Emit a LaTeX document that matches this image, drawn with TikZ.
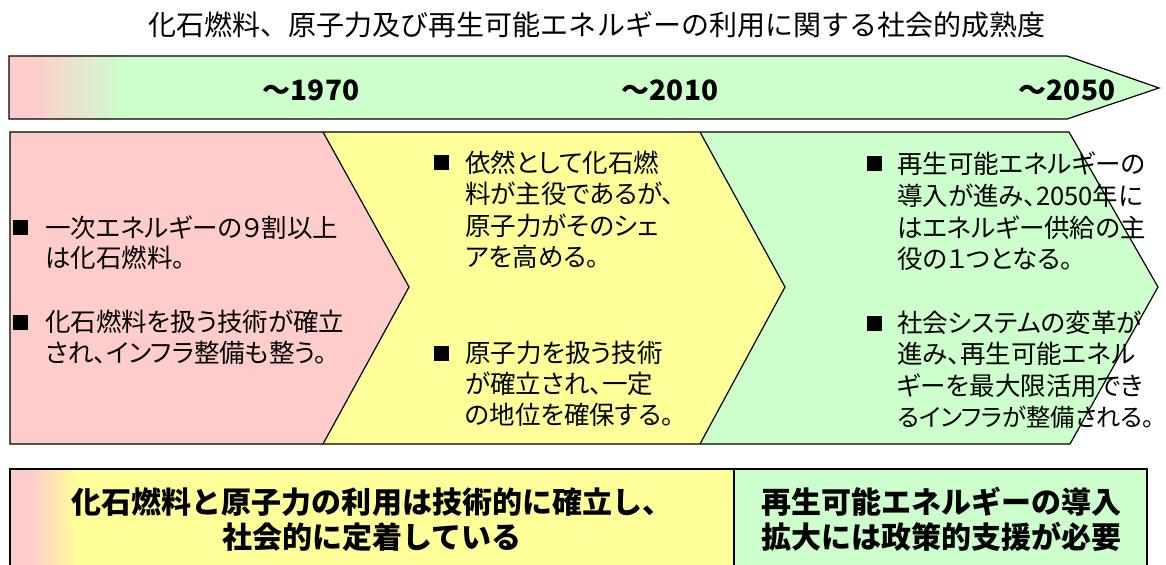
\documentclass[tikz,border=0pt]{standalone}
\usepackage{fontspec}
\newfontfamily\jp{Noto Sans CJK JP}
\newfontfamily\jpp[RawFeature=+palt]{Noto Sans CJK JP}
\definecolor{pinkc}{HTML}{FFCCCC}
\definecolor{yellowc}{HTML}{FFFF99}
\definecolor{greenc}{HTML}{CCFFCC}
\tikzset{
  ln/.style={anchor=west, inner sep=0pt, text height=22bp, text depth=3bp,
    font=\jpp\fontsize{25.5bp}{30bp}\selectfont},
  lnsmall/.style={ln, font=\jpp\fontsize{24.3bp}{30bp}\selectfont},
  bul/.style={fill=black, draw=none, minimum size=15bp, inner sep=0pt},
  yearlbl/.style={inner sep=0pt, text height=24.6bp, text depth=3.4bp,
    font=\jp\bfseries\fontsize{28bp}{30bp}\selectfont},
  bottomlbl/.style={inner sep=0pt, text height=26.4bp, text depth=3.6bp,
    font=\jp\bfseries\fontsize{30bp}{35bp}\selectfont},
  titlelbl/.style={inner sep=0pt, text height=24.6bp, text depth=3.4bp,
    font=\jp\fontsize{28bp}{30bp}\selectfont},
  outline/.style={draw=black, line width=1.2bp, line join=miter},
}
\begin{document}
\begin{tikzpicture}[x=1bp, y=-1bp]
\useasboundingbox (0,0) rectangle (1166,565);
\clip (0,0) rectangle (1166,565);
\fill[white] (0,0) rectangle (1166,565);

% title
\node[titlelbl] (title) at (597,25) {化石燃料、原子力及び再生可能エネルギーの利用に関する社会的成熟度};

% top timeline arrow
\fill[greenc] (9,56) -- (1067,56) -- (1159,88) -- (1067,119) -- (9,119) -- cycle;
\fill[pinkc] (9,56) rectangle (32,119);
\shade[left color=pinkc, right color=greenc] (32,56) rectangle (125,119);
\draw[outline] (9,56) -- (1067,56) -- (1159,88) -- (1067,119) -- (9,119) -- cycle;
\node[yearlbl] (y1970) at (311,90) {～1970};
\node[yearlbl] (y2010) at (670,90) {～2010};
\node[yearlbl] (y2050) at (1067,90) {～2050};

% chevron fills
\fill[pinkc] (10,132) -- (323,132) -- (409,287) -- (323,444) -- (10,444) -- cycle;
\fill[yellowc] (323,132) -- (700,132) -- (785,287) -- (700,444) -- (323,444) -- (409,287) -- cycle;
\fill[greenc] (700,132) -- (1069,132) -- (1158,287) -- (1070,444) -- (700,444) -- (785,287) -- cycle;

% pink texts
\node[bul] (pb1) at (20,228) {};
\node[ln] (p1a) at (45,228) {一次エネルギーの９割以上};
\node[ln] (p1b) at (45,258) {は化石燃料。};
\node[bul] (pb2) at (20,322) {};
\node[ln] (p2a) at (45,322) {化石燃料を扱う技術が確立};
\node[ln] (p2b) at (45,353) {され、インフラ整備も整う。};

% yellow texts
\node[bul] (yb1) at (441,163) {};
\node[ln] (y1a) at (465,163) {依然として化石燃};
\node[ln] (y1b) at (465,194) {料が主役であるが、};
\node[ln] (y1c) at (465,226) {原子力がそのシェ};
\node[ln] (y1d) at (465,257) {アを高める。};
\node[bul] (yb2) at (441,353) {};
\node[ln] (y2a) at (465,353) {原子力を扱う技術};
\node[ln] (y2b) at (465,384) {が確立され、一定};
\node[ln] (y2c) at (465,415) {の地位を確保する。};

% green texts
\node[bul] (gb1) at (874,164) {};
\node[ln] (g1a) at (897,164) {再生可能エネルギーの};
\node[ln] (g1b) at (897,196) {導入が進み、2050年に};
\node[ln] (g1c) at (897,228) {はエネルギー供給の主};
\node[ln] (g1d) at (897,259) {役の１つとなる。};
\node[bul] (gb2) at (874,323) {};
\node[ln] (g2a) at (897,323) {社会システムの変革が};
\node[ln] (g2b) at (897,354) {進み、再生可能エネル};
\node[ln] (g2c) at (897,386) {ギーを最大限活用でき};
\node[lnsmall] (g2d) at (897,417) {るインフラが整備される。\kern-0.6em};

% chevron outlines
\draw[outline] (10,132) -- (323,132) -- (409,287) -- (323,444) -- (10,444) -- cycle;
\draw[outline] (323,132) -- (700,132) -- (785,287) -- (700,444) -- (323,444);
\draw[outline] (700,132) -- (1069,132) -- (1158,287) -- (1070,444) -- (700,444);

% bottom boxes
\fill[yellowc] (10,469) rectangle (734,580);
\fill[pinkc] (10,469) rectangle (30,580);
\shade[left color=pinkc, right color=yellowc] (30,469) rectangle (78,580);
\fill[greenc] (734,469) rectangle (1147,580);
\draw[outline] (10,580) -- (10,469) -- (1147,469) -- (1147,580);
\draw[outline] (734,469) -- (734,580);
\node[bottomlbl] (bl1) at (372,502) {化石燃料と原子力の利用は技術的に確立し、};
\node[bottomlbl] (bl2) at (372,537) {社会的に定着している};
\node[bottomlbl] (br1) at (941,502) {再生可能エネルギーの導入};
\node[bottomlbl] (br2) at (941,537) {拡大には政策的支援が必要};
\end{tikzpicture}
\end{document}
